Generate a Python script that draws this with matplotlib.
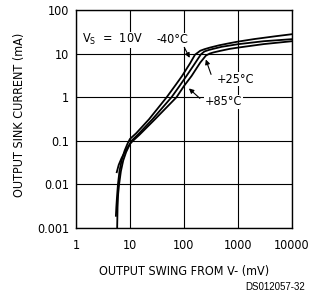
import matplotlib
matplotlib.use("Agg")
import matplotlib.pyplot as plt
from matplotlib import font_manager

# Data
x_m40 = [5.5, 5.6, 5.75, 6.0, 6.4, 7, 8, 9, 10, 13, 22.5, 48, 70, 92, 130, 160,
         200, 240, 302, 450, 700, 1000, 2000, 5000, 10000]
y_m40 = [0.0019, 0.003, 0.005, 0.01, 0.02, 0.035, 0.06, 0.085, 0.11, 0.148, 0.31, 1,
         1.9, 3.05, 6.0, 9.4, 11.6, 12.6, 13.7, 15.5, 17.3, 18.8, 21.5, 25, 27.8]

x_p25 = [5.8, 5.9, 6.05, 6.3, 6.8, 7.5, 8.5, 10.7, 14, 26, 59, 80, 111, 150, 206,
         240, 290, 345, 500, 1000, 3000, 10000]
y_p25 = [0.001, 0.003, 0.006, 0.01, 0.02, 0.035, 0.055, 0.1, 0.138, 0.31, 1, 1.7,
         3.05, 5.3, 9.6, 11.2, 12.1, 12.8, 14.3, 16.4, 19.2, 21.4]

x_p85 = [5.7, 6.2, 7, 8, 10, 11.4, 15, 29, 73, 100, 138, 200, 255, 300, 350, 464,
         700, 1000, 3000, 10000]
y_p85 = [0.019, 0.028, 0.04, 0.055, 0.085, 0.1, 0.137, 0.31, 1, 1.8, 3.05, 6.2, 9.0,
         10.0, 10.6, 11.5, 12.8, 13.7, 16.5, 19.2]

xticks = [1, 10, 100, 1000, 10000]
xticklabels = ["1", "10", "100", "1000", "10000"]
yticks = [0.001, 0.01, 0.1, 1, 10, 100]
yticklabels = ["0.001", "0.01", "0.1", "1", "10", "100"]

names = {f.name for f in font_manager.fontManager.ttflist}
if 'Liberation Sans Narrow' in names:
    plt.rcParams['font.family'] = ['Liberation Sans Narrow', 'DejaVu Sans']
else:
    plt.rcParams['font.family'] = ['DejaVu Sans']
    plt.rcParams['font.stretch'] = 'condensed'

FS = 9

fig = plt.figure(figsize=(3.15, 2.93), dpi=100)
ax = fig.add_axes([0.241, 0.222, 0.686, 0.744])
ax.set_xscale('log')
ax.set_yscale('log')
ax.set_xlim(1, 10000)
ax.set_ylim(0.001, 100)

for xs, ys in [(x_m40, y_m40), (x_p25, y_p25), (x_p85, y_p85)]:
    ax.plot(xs, ys, color='black', lw=1.3, zorder=3, solid_joinstyle='round')

ax.set_xticks(xticks)
ax.set_xticklabels(xticklabels)
ax.set_yticks(yticks)
ax.set_yticklabels(yticklabels)
ax.minorticks_off()
ax.tick_params(length=0, labelsize=FS, pad=5)
ax.tick_params(axis='x', pad=8)
ax.grid(True, which='major', color='black', lw=0.8)
for s in ax.spines.values():
    s.set_color('black')
    s.set_linewidth(1.0)

ax.set_xlabel("OUTPUT SWING FROM V- (mV)", fontsize=FS)
ax.xaxis.set_label_coords(0.5, -0.20)
ax.xaxis.label.set_va('center')
ax.set_ylabel("OUTPUT SINK CURRENT (mA)", fontsize=FS)
ax.yaxis.set_label_coords(-0.26, 0.52)
ax.yaxis.label.set_va('center')

bbox = dict(facecolor='white', edgecolor='none', pad=0.5)
ax.text(1.29, 20.6, "V$_\\mathregular{S}$  =  10V", fontsize=FS, va='center', ha='left', bbox=bbox, zorder=4)
ax.text(31, 20.6, "-40°C", fontsize=FS, va='center', ha='left', bbox=bbox, zorder=4)
ax.annotate("", xy=(135, 7.0), xytext=(96, 15.8),
            arrowprops=dict(arrowstyle='-|>', color='black', lw=0.8, mutation_scale=7), zorder=4)
ax.text(400, 2.6, "+25°C", fontsize=FS, va='center', ha='left', bbox=bbox, zorder=4)
ax.annotate("", xy=(244, 8.4), xytext=(330, 2.9),
            arrowprops=dict(arrowstyle='-|>', color='black', lw=0.8, mutation_scale=7), zorder=4)
ax.text(244, 0.78, "+85°C", fontsize=FS, va='center', ha='left', bbox=bbox, zorder=4)
ax.annotate("", xy=(113, 1.75), xytext=(215, 0.85),
            arrowprops=dict(arrowstyle='-|>', color='black', lw=0.8, mutation_scale=7), zorder=4)

fig.text(0.968, 0.02, "DS012057-32", fontsize=7, ha='right', va='center',
         family=['Liberation Sans', 'DejaVu Sans'], stretch='normal')

fig.savefig("out.png", dpi=100)
